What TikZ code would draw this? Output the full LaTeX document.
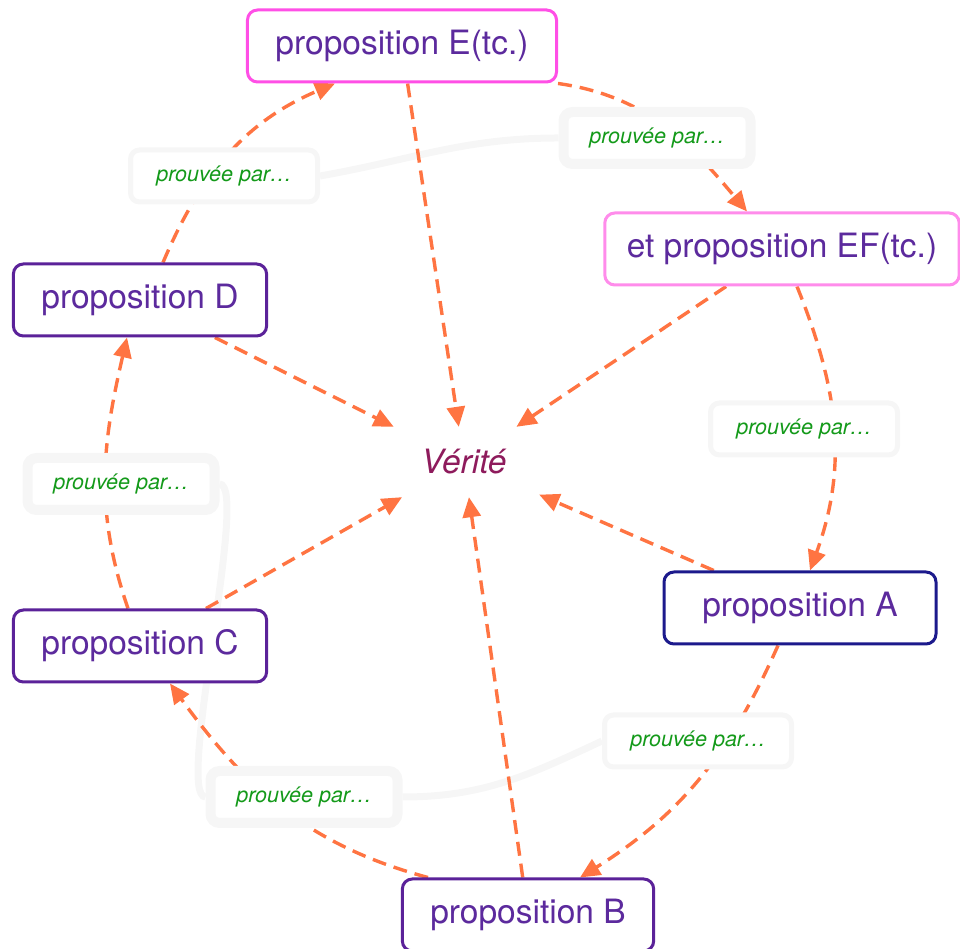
\documentclass[tikz,border=0pt]{standalone}
\usepackage{fontspec}
\setmainfont{TeX Gyre Heros}
\usetikzlibrary{arrows.meta,backgrounds}
\definecolor{propText}{HTML}{5C2A9D}
\definecolor{propViolet}{HTML}{5B2299}
\definecolor{propNavy}{HTML}{1C1A8C}
\definecolor{propPink}{HTML}{FF4FE6}
\definecolor{propLightPink}{HTML}{FF8CEB}
\definecolor{truthText}{HTML}{8E1B5C}
\definecolor{linkOrange}{HTML}{FF7442}
\definecolor{proofGreen}{HTML}{149A1A}
\definecolor{proofGray}{HTML}{F6F6F6}
\tikzset{
    x=1pt,
    y=1pt,
    prop/.style = {
        draw=propViolet,
        shape=rectangle,
        rounded corners=10pt,
        fill=white,
        text=propText,
        minimum height=72pt,
        inner xsep=28pt,
        line width=3pt,
        font=\fontsize{33.5}{40}\selectfont
    },
    truth/.style = {
        shape=rectangle,
        minimum width=150pt,
        minimum height=70pt,
        text=truthText,
        font=\fontsize{33.5}{40}\selectfont\itshape
    },
    proof/.style = {
        draw=proofGray,
        shape=rectangle,
        rounded corners=9pt,
        fill=white,
        text=proofGreen,
        minimum width=187pt,
        minimum height=52pt,
        line width=5pt,
        font=\fontsize{21.5}{26}\selectfont\itshape
    },
    thickproof/.style = {
        proof,
        line width=10pt
    },
    link/.style = {
        draw=linkOrange,
        line width=3.4pt,
        dash pattern=on 14pt off 8pt
    },
    tie/.style = {
        draw=proofGray,
        line width=7pt
    },
    >={Triangle[length=20pt,width=18pt]},
}

\begin{document}
\begin{tikzpicture}
    \useasboundingbox (0,0) rectangle (960,949);

    \node[prop, draw=propPink] (pE) at (402,903) {proposition E(tc.)};
    \node[prop, draw=propLightPink, inner xsep=22pt] (pEF) at (782,700) {et proposition EF(tc.)};
    \node[prop] (pD) at (140,649) {proposition D};
    \node[prop] (pC) at (140,303) {proposition C};
    \node[prop, draw=propNavy, minimum width=272pt] (pA) at (800,341) {proposition A};
    \node[prop] (pB) at (528,34) {proposition B};
    \node[truth] (ver) at (464,487) {Vérité};

    \node[thickproof] (byEF) at (657,811) {prouvée par…};
    \node[proof] (byE) at (224,773) {prouvée par…};
    \node[proof] (byA) at (804,520) {prouvée par…};
    \node[thickproof] (byD) at (121,465) {prouvée par…};
    \node[proof] (byB) at (698,208) {prouvée par…};
    \node[thickproof] (byC) at (304,152) {prouvée par…};

    \begin{scope}[on background layer]
        % faint ties between the labels
        \path[tie] (byE.east) to[out=10, in=180] (byEF.west);
        \path[tie] (byD.east) to[out=0, in=180, looseness=0.25] (byC.west);
        \path[tie] (byC.east) to[out=0, in=205] (byB.west);

        % the proof cycle
        \path[link, ->] (pE.south east) to[out=-8, in=130] ([xshift=-35pt]pEF.north);
        \path[link, ->] ([xshift=15pt]pEF.south) to[out=-68, in=70] ([xshift=10pt]pA.north);
        \path[link, ->] ([xshift=-22pt]pA.south) to[out=-114, in=32] ([xshift=52pt]pB.north);
        \path[link, ->] ([xshift=-100pt]pB.north) to[out=165, in=-54] ([xshift=30pt]pC.south);
        \path[link, ->] ([xshift=-12pt]pC.north) to[out=109, in=-103] ([xshift=-13pt]pD.south);
        \path[link, ->] ([xshift=23pt]pD.north) to[out=67, in=-157] ([xshift=-67pt]pE.south);

        % everything leads to the truth
        \path[link, ->] (pE) -- (ver);
        \path[link, ->] (pEF) -- (ver);
        \path[link, ->] (pD) -- (ver);
        \path[link, ->] (pC) -- (ver);
        \path[link, ->] (pB) -- (ver);
        \path[link, ->] (pA) -- (ver);
    \end{scope}
\end{tikzpicture}
\end{document}
